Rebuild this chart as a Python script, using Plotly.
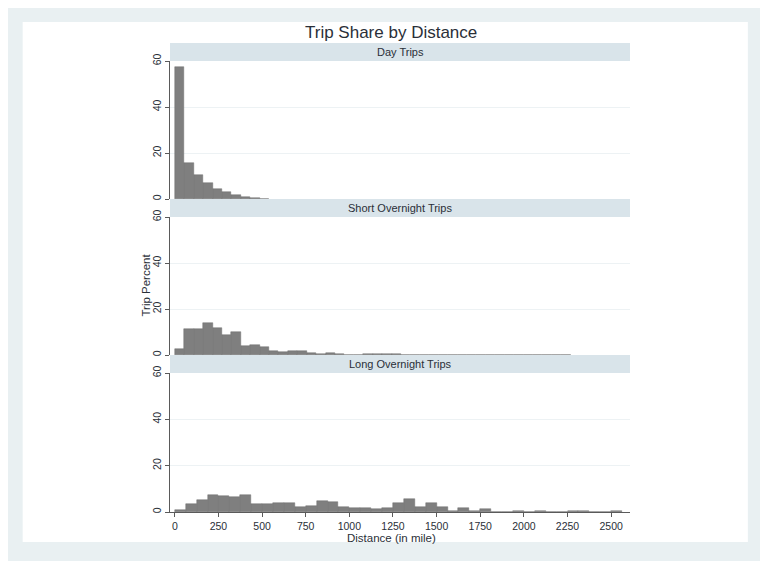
import plotly.graph_objects as go

# ---- data (percent of trips per distance bin) ----
panel_titles = ["Day Trips", "Short Overnight Trips", "Long Overnight Trips"]

day_bin_width = 54.0
day_pct = [57.2, 15.6, 10.4, 6.8, 4.3, 3.0, 1.7, 0.7, 0.3, 0.1]

short_bin_width = 54.0
short_pct = [2.5, 11.2, 11.4, 13.9, 11.7, 8.6, 10.0, 4.1, 4.2, 3.6,
             1.7, 1.3, 1.6, 1.6, 1.0, 0.4, 0.7, 0.4, 0.1, 0.1,
             0.3, 0.3, 0.3, 0.3, 0.2, 0.1, 0.1, 0.1, 0.1, 0.1,
             0.1, 0.1, 0.1, 0.1, 0.1, 0.1, 0.1, 0.1, 0.0, 0.0,
             0.2, 0.2]

long_bin_width = 62.5
long_pct = [0.7, 3.5, 5.1, 7.5, 7.1, 6.5, 7.2, 3.5, 3.3, 3.8,
            3.9, 2.3, 2.5, 4.6, 4.5, 2.0, 1.6, 1.6, 1.2, 1.9,
            3.9, 5.8, 2.3, 4.0, 2.0, 0.3, 1.6, 0.3, 1.2, 0.1,
            0.1, 0.3, 0.2, 0.3, 0.2, 0.05, 0.3, 0.3, 0.05, 0.05,
            0.4]

x_ticks = [0, 250, 500, 750, 1000, 1250, 1500, 1750, 2000, 2250, 2500]
y_ticks = [0, 20, 40, 60]

# ---- style ----
OUTER = "#e9f0f2"
STRIP = "#d9e4ea"
BAR = "#7f7f7f"
BAR_LINE = "#6e6e6e"
AXIS = "#5a5a5a"
GRID = "#edf2f4"
TEXT = "#2a2f38"
FONT = "Liberation Sans, Arial, sans-serif"

# the page body adds an 8px margin; lay the figure out in page pixels
OFF = 8
PAGE_W, PAGE_H = 768, 561
W, H = PAGE_W - OFF, PAGE_H - OFF
plot_left, plot_right = 169.5, 630      # page px
plot_top, plot_bottom = 43, 512         # page px
L = plot_left - OFF
R = W - (plot_right - OFF)
T = plot_top - OFF
B = H - (plot_bottom - OFF)
PH = plot_bottom - plot_top
PW = plot_right - plot_left

def px_x(x):
    return (x - plot_left) / PW

def px_y(y):
    return (plot_bottom - y) / PH

strip_h = 18
panels_px = [(61, 199), (217, 355), (373, 512)]  # page top/bottom of each panel

fig = go.Figure()

series = [(day_pct, day_bin_width), (short_pct, short_bin_width), (long_pct, long_bin_width)]
for i, (vals, bw) in enumerate(series):
    xs = [k * bw for k in range(len(vals))]
    fig.add_trace(go.Bar(
        x=xs, y=vals, width=[bw] * len(vals), offset=0,
        marker=dict(color=BAR, line=dict(color=BAR_LINE, width=0.5)),
        xaxis="x" if i == 0 else f"x{i+1}",
        yaxis="y" if i == 0 else f"y{i+1}",
        showlegend=False, hoverinfo="skip",
    ))

x_range = [-27.5, 2608]
layout = dict(
    width=W, height=H,
    margin=dict(l=L, r=R, t=T, b=B, pad=0),
    paper_bgcolor=OUTER, plot_bgcolor="white",
    font=dict(family=FONT, color=TEXT, size=11),
    bargap=0,
)
for i in range(3):
    xa = "xaxis" if i == 0 else f"xaxis{i+1}"
    ya = "yaxis" if i == 0 else f"yaxis{i+1}"
    top, bot = panels_px[i]
    last = (i == 2)
    layout[xa] = dict(
        domain=[0, 1], range=x_range,
        anchor="y" if i == 0 else f"y{i+1}",
        showgrid=False, zeroline=False,
        tickmode="array", tickvals=x_ticks,
        showticklabels=last,
        ticks="outside" if last else "", ticklen=4, tickcolor=AXIS,
        showline=last, linecolor=AXIS, linewidth=1,
        tickfont=dict(size=10.5, color=TEXT),
    )
    if i > 0:
        layout[xa]["matches"] = "x"
    layout[ya] = dict(
        domain=[px_y(bot), px_y(top)], range=[0, 60],
        anchor="x" if i == 0 else f"x{i+1}",
        tickmode="array", tickvals=y_ticks,
        tickangle=-90, ticks="outside", ticklen=4, tickcolor=AXIS,
        showline=True, linecolor=AXIS, linewidth=1,
        showgrid=True, gridcolor=GRID, gridwidth=1,
        zeroline=False,
        tickfont=dict(size=10.5, color=TEXT),
    )
fig.update_layout(**layout)

# white inner panel (background)
fig.add_shape(type="rect", xref="paper", yref="paper", layer="below",
              x0=px_x(22), x1=px_x(748), y0=px_y(542), y1=px_y(22),
              fillcolor="white", line=dict(width=0))

# strips with panel titles
for i, name in enumerate(panel_titles):
    top = panels_px[i][0]
    y0, y1 = px_y(top), px_y(top - strip_h)
    fig.add_shape(type="rect", xref="paper", yref="paper",
                  x0=0, x1=1, y0=y0, y1=y1,
                  fillcolor=STRIP, line=dict(width=0))
    fig.add_annotation(text=name, xref="paper", yref="paper",
                       x=0.5, y=(y0 + y1) / 2, showarrow=False,
                       font=dict(size=11, color=TEXT), yanchor="middle")

# titles
fig.add_annotation(text="Trip Share by Distance", xref="paper", yref="paper",
                   x=px_x(391), y=px_y(33), showarrow=False,
                   font=dict(size=17, color=TEXT), yanchor="middle")
fig.add_annotation(text="Trip Percent", xref="paper", yref="paper",
                   x=px_x(145), y=px_y(285), showarrow=False,
                   textangle=-90, font=dict(size=11.5, color=TEXT),
                   xanchor="center", yanchor="middle")
fig.add_annotation(text="Distance (in mile)", xref="paper", yref="paper",
                   x=px_x(391), y=px_y(537.5), showarrow=False,
                   font=dict(size=11.5, color=TEXT), yanchor="middle")

fig.write_html("out.html")
